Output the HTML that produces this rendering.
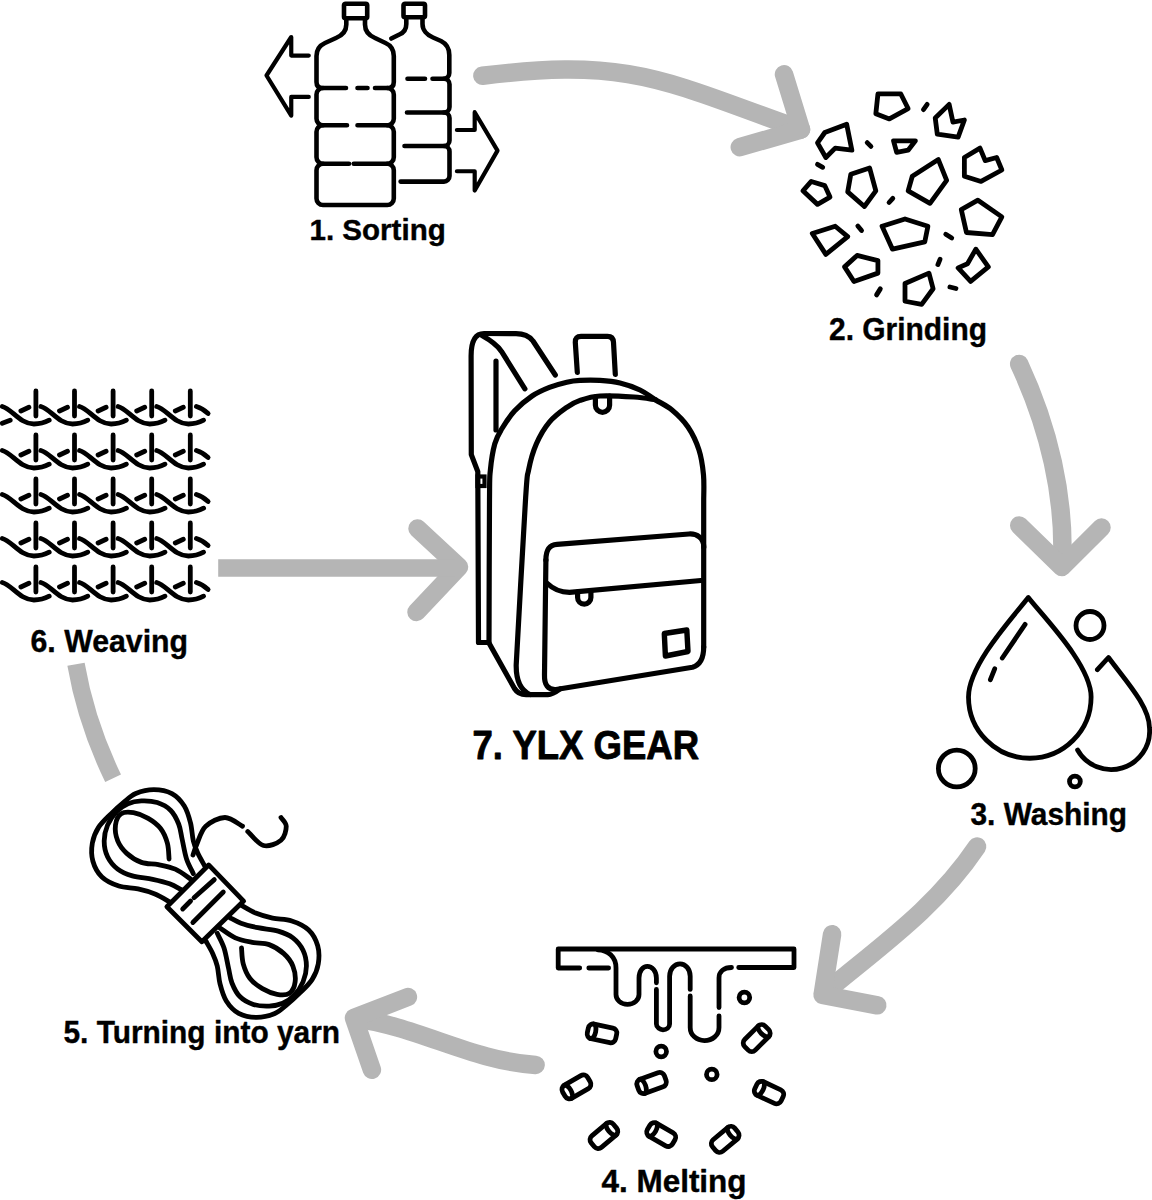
<!DOCTYPE html>
<html><head><meta charset="utf-8"><style>
html,body{margin:0;padding:0;background:#fff;}
body{width:1152px;height:1200px;overflow:hidden;}
svg{display:block;}

</style></head><body><div id="wrap">
<svg width="1152" height="1200" viewBox="0 0 1152 1200">
<rect width="1152" height="1200" fill="#fff"/>
<g fill="none" stroke="#b5b5b5" stroke-width="18.5" stroke-linecap="round" stroke-linejoin="round">
<path d="M 482.4,75.8 C 632.0,57.2 666.3,82.0 801.0,129.5"/>
<path d="M 784,74.3 L 801,129.5 L 739.8,147.2"/>
<path d="M 1019.2,364.0 C 1048.3,426.5 1065.7,496.8 1061.9,566.0"/>
<path d="M 1019.2,525.4 L 1061.9,567 L 1101.5,527.5"/>
<path d="M 977.1,846.5 C 935.4,908.7 878.6,947.2 823.0,994.0"/>
<path d="M 832.1,934.2 L 822.6,994.9 L 877.3,1005.3"/>
<path d="M 535.6,1064.9 C 472.3,1061.1 417.3,1026.2 355.0,1018.5"/>
<path d="M 407.9,997 L 354,1017.9 L 371.9,1069.8"/>
<path d="M 417.5,528.5 L 459,567 L 416.5,612"/>
</g>
<g fill="none" stroke="#b5b5b5" stroke-width="17.5" stroke-linecap="butt">
<path d="M 218.2,568 L 455,568"/>
<path d="M 76,664.2 Q 86,722 113.1,778.3"/>
</g>
<g fill="none" stroke="#000" stroke-width="4.6" stroke-linecap="round" stroke-linejoin="round">
<rect x="403.5" y="3.8" width="21.5" height="13.5" rx="1.5"/>
<path d="M 406.3,18.5 L 406.3,24 C 406.3,30 403,33 399.4,34.5 L 391.3,38.5"/>
<path d="M 422.5,18.5 L 422.5,24 C 422.5,30 427,35 433,37.5 L 441,41 C 446,43.5 449.3,47 449.3,55 L 449.3,73 C 449.3,76.5 447,78.75 443.5,78.75 L 432.5,78.75 M 425,78.75 L 407.5,78.75"/>
<path d="M 444,78.75 A 5.5 5.5 0 0 1 449.5,84.25 L 449.5,107 A 5.5 5.5 0 0 1 444,112.5 L 407,112.5"/>
<path d="M 444,112.5 A 5.5 5.5 0 0 1 449.5,118 L 449.5,140.5 A 5.5 5.5 0 0 1 444,146 L 404.5,146"/>
<path d="M 444,146 A 5.5 5.5 0 0 1 449.5,151.5 L 449.5,176.1 A 5.5 5.5 0 0 1 444,181.6 L 400.6,181.6"/>
<rect x="344" y="3.8" width="23.2" height="14.5" rx="1.5"/>
<path d="M 346.3,19 L 346.3,24.5 C 346.3,31 342,35.5 336,38 L 325,43 C 319.5,45.5 316.5,49 316.5,56 L 316.5,82 C 316.5,86 318.5,88 322.5,88 L 346,88 M 357.5,88 L 367.5,88 M 375,88 L 388,88 C 392,88 393.8,86 393.8,82 L 393.8,56 C 393.8,49 391,45.5 385.5,43 L 375,38 C 369,35.5 365,31 365,24.5 L 365,19"/>
<path d="M 323,88 A 6.5 6.5 0 0 0 316.5,94.5 L 316.5,118.8 A 6.5 6.5 0 0 0 323,125.3 L 347,125.3 M 357.5,125.3 L 387.3,125.3 A 6.5 6.5 0 0 0 393.8,118.8 L 393.8,94.5 A 6.5 6.5 0 0 0 387.3,88"/>
<path d="M 323,125.3 A 6.5 6.5 0 0 0 316.5,131.8 L 316.5,157.25 A 6.5 6.5 0 0 0 323,163.75 L 349,163.75 M 353.75,163.75 L 387.3,163.75 A 6.5 6.5 0 0 0 393.8,157.25 L 393.8,131.8 A 6.5 6.5 0 0 0 387.3,125.3"/>
<path d="M 323,163.75 A 6.5 6.5 0 0 0 316.5,170.25 L 316.5,198.5 A 6.5 6.5 0 0 0 323,205 L 387.3,205 A 6.5 6.5 0 0 0 393.8,198.5 L 393.8,170.25 A 6.5 6.5 0 0 0 387.3,163.75"/>
</g>
<g fill="none" stroke="#000" stroke-width="4.2" stroke-linecap="round" stroke-linejoin="round">
<path d="M 308.75,55.6 L 291.25,55.6 L 291.25,37 L 266.5,75.5 L 291.25,115.6 L 291.25,96.9 L 308.75,96.9"/>
<path d="M 456.9,130 L 474.7,130 L 474.7,112.2 L 497.5,150.6 L 474.7,190.5 L 474.7,171.25 L 456.9,171.25"/>
</g>
<g fill="none" stroke="#000" stroke-width="4.8" stroke-linejoin="round" stroke-linecap="round">
<path d="M 877.92,93.96 L 900.83,93.96 L 908.12,108.54 L 889.38,118.96 L 875.83,113.75 Z"/>
<path d="M 935.21,117.92 L 949.17,104.38 L 952.92,122.08 L 964.38,120 L 958.12,137.08 L 937.29,134.17 Z"/>
<path d="M 817.5,142.92 L 824.79,132.5 L 846.67,124.17 L 851.88,150.21 L 835.21,148.12 L 825.83,157.5 Z"/>
<path d="M 893.54,140.83 L 915.42,140.83 L 908.12,150.21 L 896.67,152.29 Z"/>
<path d="M 964.38,157.5 L 980,148.12 L 985.21,160.62 L 996.67,157.5 L 1001.88,170 L 981.04,181.46 L 964.38,176.25 Z"/>
<path d="M 802.92,190.83 L 811.25,181.46 L 824.79,185.62 L 830,197.08 L 817.5,204.38 Z"/>
<path d="M 850.83,174.17 L 869.58,167.92 L 875.83,190.83 L 864.38,206.46 L 847.71,191.88 Z"/>
<path d="M 908.12,190.83 L 912.29,176.25 L 938.33,159.58 L 946.67,180.42 L 930,203.33 Z"/>
<path d="M 961.25,209.58 L 977.92,200.21 L 1001.88,216.88 L 992.5,234.58 L 966.46,232.5 Z"/>
<path d="M 812.29,233.54 L 835.21,226.25 L 847.71,236.67 L 825.83,254.38 Z"/>
<path d="M 882.08,226.25 L 905,218.96 L 927.92,226.25 L 924.79,241.88 L 892.5,249.17 Z"/>
<path d="M 844.58,266.88 L 857.08,255.42 L 877.92,260.62 L 877.92,273.12 L 853.96,281.46 Z"/>
<path d="M 958.12,267.92 L 967.5,263.75 L 975.83,249.17 L 988.33,266.88 L 970.62,281.46 Z"/>
<path d="M 905,283.54 L 928.96,273.12 L 933.12,288.75 L 921.67,304.38 L 905,301.25 Z"/>
<path d="M 923.44,109.6 L 927.19,104.35"/>
<path d="M 867.19,142.6 L 870.94,146.35"/>
<path d="M 817.48,164.33 L 822.73,167.33"/>
<path d="M 889.06,202.52 L 892.81,198.32"/>
<path d="M 857.81,226.08 L 861.56,230.58"/>
<path d="M 945.75,234.27 L 951.75,238.02"/>
<path d="M 940.01,259.35 L 937.91,264.6"/>
<path d="M 876.56,294.88 L 880.31,288.88"/>
<path d="M 949.92,286.96 L 955.92,288.46"/>
</g>
<g fill="none" stroke="#000" stroke-width="4.8" stroke-linecap="round" stroke-linejoin="round">
<path d="M 1028.3,597.5 C 1013,617 968.5,665 968.5,697 A 61.3 61.3 0 0 0 1091.1,697 C 1091.1,665 1043.5,617 1028.3,597.5 Z"/>
<path d="M 1025.1,624.4 L 1002.3,658 M 994.7,668.8 L 990.4,679.7"/>
<path d="M 1097.4,669.7 L 1108.5,657.5 C 1125,680 1149.5,706 1149.5,728 A 38.5 38.5 0 0 1 1077.6,750"/>
<circle cx="1090" cy="625.5" r="14"/><circle cx="956.8" cy="768.5" r="18.4"/><circle cx="1074.9" cy="781.5" r="5.4"/>
</g>
<g fill="none" stroke="#000" stroke-width="4.8" stroke-linecap="round" stroke-linejoin="round">
<path d="M 579.7,968 L 558.2,968 L 558.2,949 L 794,949 L 794,967.5 L 738.7,967.5 M 588.8,968 L 608.6,968"/>
<path d="M 597.8,949.8 C 608,950 616,957 616,968 L 616,994.4 C 616,1000 621,1004.3 627.5,1004.3 C 634,1004.3 639,1000 639,994.4 L 639,977.9 C 639,971 643,966.3 647.3,966.3 C 652,966.3 656.4,971 656.4,977.9 L 656.4,982.8 M 656.4,989.4 L 656.4,1024 C 656.4,1027.5 660,1029.8 663,1029.8 C 666.5,1029.8 669.6,1027.5 669.6,1024 L 669.6,976.2 C 669.6,969 674.5,963.9 680,963.9 C 685.5,963.9 690.2,969 690.2,976.2 L 690.2,989.4 M 690.2,996 L 690.2,1027.4 C 690.2,1035 696.5,1040.6 704.5,1040.6 C 712.5,1040.6 719,1035 719,1027.4 L 719,1015.8 M 719,1007.6 L 719,977.9 C 719,971.5 724,967.5 731.5,967.5"/>
<circle cx="744.4" cy="997.5" r="5.3"/><circle cx="661.2" cy="1051.5" r="5.3"/><circle cx="711.8" cy="1074.4" r="5.3"/>
<g transform="translate(602,1033.4) rotate(12)"><rect x="-14.5" y="-7.5" width="29" height="15" rx="5"/><path d="M -10,-7.5 A 3.5 7.5 0 0 1 -10,7.5"/></g>
<g transform="translate(756.7,1038.1) rotate(135)"><rect x="-14.5" y="-7.5" width="29" height="15" rx="5"/><path d="M -10,-7.5 A 3.5 7.5 0 0 1 -10,7.5"/></g>
<g transform="translate(576.4,1086.9) rotate(-30)"><rect x="-14.5" y="-7.5" width="29" height="15" rx="5"/><path d="M -10,-7.5 A 3.5 7.5 0 0 1 -10,7.5"/></g>
<g transform="translate(651.6,1083) rotate(-20)"><rect x="-14.5" y="-7.5" width="29" height="15" rx="5"/><path d="M -10,-7.5 A 3.5 7.5 0 0 1 -10,7.5"/></g>
<g transform="translate(769,1092.6) rotate(25)"><rect x="-14.5" y="-7.5" width="29" height="15" rx="5"/><path d="M -10,-7.5 A 3.5 7.5 0 0 1 -10,7.5"/></g>
<g transform="translate(603.9,1135.5) rotate(140)"><rect x="-14.5" y="-7.5" width="29" height="15" rx="5"/><path d="M -10,-7.5 A 3.5 7.5 0 0 1 -10,7.5"/></g>
<g transform="translate(661.2,1134.6) rotate(30)"><rect x="-14.5" y="-7.5" width="29" height="15" rx="5"/><path d="M -10,-7.5 A 3.5 7.5 0 0 1 -10,7.5"/></g>
<g transform="translate(725.2,1139.4) rotate(140)"><rect x="-14.5" y="-7.5" width="29" height="15" rx="5"/><path d="M -10,-7.5 A 3.5 7.5 0 0 1 -10,7.5"/></g>
</g>
<g fill="none" stroke="#000" stroke-width="4.8" stroke-linecap="round" stroke-linejoin="round">
<g id="lobe"><path d="M 204.61,865.76 C 203.48,863.69 199.72,857.48 197.84,853.35 C 195.96,849.21 194.55,846.01 193.33,840.93 C 192.11,835.86 192.01,828.71 190.51,822.88 C 189,817.05 187.4,810.84 184.3,805.95 C 181.2,801.06 176.97,796.27 171.89,793.54 C 166.81,790.81 159.85,789.59 153.83,789.59 C 147.82,789.59 140.86,791.38 135.78,793.54 C 130.7,795.7 127.5,799.18 123.37,802.57 C 119.23,805.95 115.09,809.71 110.95,813.85 C 106.82,817.99 101.64,822.5 98.54,827.39 C 95.44,832.28 93.28,837.55 92.33,843.19 C 91.39,848.83 91.3,855.6 92.9,861.25 C 94.5,866.89 97.6,872.91 101.93,877.04 C 106.25,881.18 112.83,884.1 118.85,886.07 C 124.87,888.05 132.02,887.58 138.04,888.89 C 144.05,890.21 149.7,891.81 154.96,893.97 C 160.23,896.13 167.19,900.55 169.63,901.87"/><path d="M 193.33,873.66 C 192.2,871.21 188.44,864.82 186.56,858.99 C 184.68,853.16 183.36,844.51 182.04,838.68 C 180.73,832.85 180.54,828.71 178.66,824.01 C 176.78,819.31 174.33,814.04 170.76,810.47 C 167.19,806.89 162.11,804.17 157.22,802.57 C 152.33,800.97 146.31,800.69 141.42,800.88 C 136.53,801.06 132.02,801.91 127.88,803.7 C 123.74,805.48 119.98,808.02 116.6,811.6 C 113.21,815.17 109.64,820.25 107.57,825.14 C 105.5,830.03 104.18,835.67 104.18,840.93 C 104.18,846.2 105.31,852.03 107.57,856.73 C 109.83,861.43 113.59,865.95 117.72,869.14 C 121.86,872.34 126.56,874.22 132.39,875.92 C 138.22,877.61 146.5,877.98 152.7,879.3 C 158.91,880.62 164.93,882.12 169.63,883.81 C 174.33,885.51 179.03,888.52 180.92,889.46"/><path d="M 169.07,858.99 C 168.78,856.36 168.78,848.27 167.37,843.19 C 165.96,838.11 163.8,832.66 160.6,828.52 C 157.41,824.38 152.7,821 148.19,818.37 C 143.68,815.73 138.04,813.48 133.52,812.72 C 129.01,811.97 124.12,811.78 121.11,813.85 C 118.1,815.92 116.03,820.62 115.47,825.14 C 114.9,829.65 115.84,836.23 117.72,840.93 C 119.6,845.64 122.8,849.77 126.75,853.35 C 130.7,856.92 136.15,860.49 141.42,862.37 C 146.69,864.25 152.7,863.5 158.35,864.63 C 163.99,865.76 169.82,866.7 175.27,869.14 C 180.73,871.59 188.44,877.61 191.07,879.3"/></g>
<g transform="rotate(180 205.3 903.5)"><path d="M 204.61,865.76 C 203.48,863.69 199.72,857.48 197.84,853.35 C 195.96,849.21 194.55,846.01 193.33,840.93 C 192.11,835.86 192.01,828.71 190.51,822.88 C 189,817.05 187.4,810.84 184.3,805.95 C 181.2,801.06 176.97,796.27 171.89,793.54 C 166.81,790.81 159.85,789.59 153.83,789.59 C 147.82,789.59 140.86,791.38 135.78,793.54 C 130.7,795.7 127.5,799.18 123.37,802.57 C 119.23,805.95 115.09,809.71 110.95,813.85 C 106.82,817.99 101.64,822.5 98.54,827.39 C 95.44,832.28 93.28,837.55 92.33,843.19 C 91.39,848.83 91.3,855.6 92.9,861.25 C 94.5,866.89 97.6,872.91 101.93,877.04 C 106.25,881.18 112.83,884.1 118.85,886.07 C 124.87,888.05 132.02,887.58 138.04,888.89 C 144.05,890.21 149.7,891.81 154.96,893.97 C 160.23,896.13 167.19,900.55 169.63,901.87"/><path d="M 193.33,873.66 C 192.2,871.21 188.44,864.82 186.56,858.99 C 184.68,853.16 183.36,844.51 182.04,838.68 C 180.73,832.85 180.54,828.71 178.66,824.01 C 176.78,819.31 174.33,814.04 170.76,810.47 C 167.19,806.89 162.11,804.17 157.22,802.57 C 152.33,800.97 146.31,800.69 141.42,800.88 C 136.53,801.06 132.02,801.91 127.88,803.7 C 123.74,805.48 119.98,808.02 116.6,811.6 C 113.21,815.17 109.64,820.25 107.57,825.14 C 105.5,830.03 104.18,835.67 104.18,840.93 C 104.18,846.2 105.31,852.03 107.57,856.73 C 109.83,861.43 113.59,865.95 117.72,869.14 C 121.86,872.34 126.56,874.22 132.39,875.92 C 138.22,877.61 146.5,877.98 152.7,879.3 C 158.91,880.62 164.93,882.12 169.63,883.81 C 174.33,885.51 179.03,888.52 180.92,889.46"/><path d="M 169.07,858.99 C 168.78,856.36 168.78,848.27 167.37,843.19 C 165.96,838.11 163.8,832.66 160.6,828.52 C 157.41,824.38 152.7,821 148.19,818.37 C 143.68,815.73 138.04,813.48 133.52,812.72 C 129.01,811.97 124.12,811.78 121.11,813.85 C 118.1,815.92 116.03,820.62 115.47,825.14 C 114.9,829.65 115.84,836.23 117.72,840.93 C 119.6,845.64 122.8,849.77 126.75,853.35 C 130.7,856.92 136.15,860.49 141.42,862.37 C 146.69,864.25 152.7,863.5 158.35,864.63 C 163.99,865.76 169.82,866.7 175.27,869.14 C 180.73,871.59 188.44,877.61 191.07,879.3"/></g>
</g>
<path d="M 166.89,906.7 L 208.64,864.95 L 243.63,901.06 L 201.87,941.68 Z" fill="#fff" stroke="#000" stroke-width="4.8" stroke-linejoin="round"/>
<g fill="none" stroke="#000" stroke-width="4.8" stroke-linecap="round">
<path d="M 182.69,908.96 L 190.59,901.06"/>
<path d="M 193.97,897.67 L 214.29,879.62"/>
<path d="M 192.85,922.5 L 223.31,892.03"/>
<path d="M 193,855 C 193.67,853.12 194.88,848.54 197,843.75 C 199.12,838.96 201.08,830.62 205.75,826.25 C 210.42,821.88 218.88,817.5 225,817.5 C 231.12,817.5 239.58,824.79 242.5,826.25"/>
<path d="M 247.75,831.5 C 250.38,833.83 257.96,844.04 263.5,845.5 C 269.04,846.96 277.21,843.46 281,840.25 C 284.79,837.04 286.25,830.04 286.25,826.25 C 286.25,822.46 281.88,818.96 281,817.5"/>
</g>
<g fill="none" stroke="#000" stroke-width="4.8" stroke-linecap="round">
<path d="M 35.9,391 L 35.9,416"/>
<path d="M 2.3,406.5 C 11.9,409 19.9,424 33.9,424 C 40.9,424 45.9,422 49.2,420.2"/>
<path d="M 20.9,411 L 28.9,407.3"/>
<path d="M 74.5,391 L 74.5,416"/>
<path d="M 40.9,406.5 C 50.5,409 58.5,424 72.5,424 C 79.5,424 84.5,422 87.8,420.2"/>
<path d="M 59.5,411 L 67.5,407.3"/>
<path d="M 113.1,391 L 113.1,416"/>
<path d="M 79.5,406.5 C 89.1,409 97.1,424 111.1,424 C 118.1,424 123.1,422 126.4,420.2"/>
<path d="M 98.1,411 L 106.1,407.3"/>
<path d="M 151.7,391 L 151.7,416"/>
<path d="M 118.1,406.5 C 127.7,409 135.7,424 149.7,424 C 156.7,424 161.7,422 165,420.2"/>
<path d="M 136.7,411 L 144.7,407.3"/>
<path d="M 190.3,391 L 190.3,416"/>
<path d="M 156.7,406.5 C 166.3,409 174.3,424 188.3,424 C 195.3,424 200.3,422 203.6,420.2"/>
<path d="M 175.3,411 L 183.3,407.3"/>
<path d="M 2.3,423.3 L 10.2,420.2"/>
<path d="M 196.4,406.5 Q 203,408.5 208.1,413.5"/>
<path d="M 35.9,435 L 35.9,460"/>
<path d="M 2.3,450.5 C 11.9,453 19.9,468 33.9,468 C 40.9,468 45.9,466 49.2,464.2"/>
<path d="M 20.9,455 L 28.9,451.3"/>
<path d="M 74.5,435 L 74.5,460"/>
<path d="M 40.9,450.5 C 50.5,453 58.5,468 72.5,468 C 79.5,468 84.5,466 87.8,464.2"/>
<path d="M 59.5,455 L 67.5,451.3"/>
<path d="M 113.1,435 L 113.1,460"/>
<path d="M 79.5,450.5 C 89.1,453 97.1,468 111.1,468 C 118.1,468 123.1,466 126.4,464.2"/>
<path d="M 98.1,455 L 106.1,451.3"/>
<path d="M 151.7,435 L 151.7,460"/>
<path d="M 118.1,450.5 C 127.7,453 135.7,468 149.7,468 C 156.7,468 161.7,466 165,464.2"/>
<path d="M 136.7,455 L 144.7,451.3"/>
<path d="M 190.3,435 L 190.3,460"/>
<path d="M 156.7,450.5 C 166.3,453 174.3,468 188.3,468 C 195.3,468 200.3,466 203.6,464.2"/>
<path d="M 175.3,455 L 183.3,451.3"/>
<path d="M 196.4,450.5 Q 203,452.5 208.1,457.5"/>
<path d="M 35.9,479 L 35.9,504"/>
<path d="M 2.3,494.5 C 11.9,497 19.9,512 33.9,512 C 40.9,512 45.9,510 49.2,508.2"/>
<path d="M 20.9,499 L 28.9,495.3"/>
<path d="M 74.5,479 L 74.5,504"/>
<path d="M 40.9,494.5 C 50.5,497 58.5,512 72.5,512 C 79.5,512 84.5,510 87.8,508.2"/>
<path d="M 59.5,499 L 67.5,495.3"/>
<path d="M 113.1,479 L 113.1,504"/>
<path d="M 79.5,494.5 C 89.1,497 97.1,512 111.1,512 C 118.1,512 123.1,510 126.4,508.2"/>
<path d="M 98.1,499 L 106.1,495.3"/>
<path d="M 151.7,479 L 151.7,504"/>
<path d="M 118.1,494.5 C 127.7,497 135.7,512 149.7,512 C 156.7,512 161.7,510 165,508.2"/>
<path d="M 136.7,499 L 144.7,495.3"/>
<path d="M 190.3,479 L 190.3,504"/>
<path d="M 156.7,494.5 C 166.3,497 174.3,512 188.3,512 C 195.3,512 200.3,510 203.6,508.2"/>
<path d="M 175.3,499 L 183.3,495.3"/>
<path d="M 196.4,494.5 Q 203,496.5 208.1,501.5"/>
<path d="M 35.9,523 L 35.9,548"/>
<path d="M 2.3,538.5 C 11.9,541 19.9,556 33.9,556 C 40.9,556 45.9,554 49.2,552.2"/>
<path d="M 20.9,543 L 28.9,539.3"/>
<path d="M 74.5,523 L 74.5,548"/>
<path d="M 40.9,538.5 C 50.5,541 58.5,556 72.5,556 C 79.5,556 84.5,554 87.8,552.2"/>
<path d="M 59.5,543 L 67.5,539.3"/>
<path d="M 113.1,523 L 113.1,548"/>
<path d="M 79.5,538.5 C 89.1,541 97.1,556 111.1,556 C 118.1,556 123.1,554 126.4,552.2"/>
<path d="M 98.1,543 L 106.1,539.3"/>
<path d="M 151.7,523 L 151.7,548"/>
<path d="M 118.1,538.5 C 127.7,541 135.7,556 149.7,556 C 156.7,556 161.7,554 165,552.2"/>
<path d="M 136.7,543 L 144.7,539.3"/>
<path d="M 190.3,523 L 190.3,548"/>
<path d="M 156.7,538.5 C 166.3,541 174.3,556 188.3,556 C 195.3,556 200.3,554 203.6,552.2"/>
<path d="M 175.3,543 L 183.3,539.3"/>
<path d="M 196.4,538.5 Q 203,540.5 208.1,545.5"/>
<path d="M 35.9,567 L 35.9,592"/>
<path d="M 2.3,582.5 C 11.9,585 19.9,600 33.9,600 C 40.9,600 45.9,598 49.2,596.2"/>
<path d="M 20.9,587 L 28.9,583.3"/>
<path d="M 74.5,567 L 74.5,592"/>
<path d="M 40.9,582.5 C 50.5,585 58.5,600 72.5,600 C 79.5,600 84.5,598 87.8,596.2"/>
<path d="M 59.5,587 L 67.5,583.3"/>
<path d="M 113.1,567 L 113.1,592"/>
<path d="M 79.5,582.5 C 89.1,585 97.1,600 111.1,600 C 118.1,600 123.1,598 126.4,596.2"/>
<path d="M 98.1,587 L 106.1,583.3"/>
<path d="M 151.7,567 L 151.7,592"/>
<path d="M 118.1,582.5 C 127.7,585 135.7,600 149.7,600 C 156.7,600 161.7,598 165,596.2"/>
<path d="M 136.7,587 L 144.7,583.3"/>
<path d="M 190.3,567 L 190.3,592"/>
<path d="M 156.7,582.5 C 166.3,585 174.3,600 188.3,600 C 195.3,600 200.3,598 203.6,596.2"/>
<path d="M 175.3,587 L 183.3,583.3"/>
<path d="M 196.4,582.5 Q 203,584.5 208.1,589.5"/>
</g>
<g fill="none" stroke="#000" stroke-width="5.2" stroke-linecap="round" stroke-linejoin="round">
<path d="M 555.3,375 L 533,341 C 529,336 524,333.7 516,333.7 L 484,333.5 C 475,333.5 471.1,342 471.1,356 L 471.3,454.6 L 477.8,471.6 L 478.5,642.5 L 488,642.5"/>
<path d="M 482.4,335.8 C 490,340 497,345 501.5,351.4 L 524.9,388.8"/>
<path d="M 496,361 L 496,430"/>
<path d="M 489,642.5 C 489.08,618.75 489.27,528.75 489.5,500 C 489.73,471.25 489.52,479.37 490.4,470 C 491.28,460.63 492.92,450.63 494.8,443.8 C 496.68,436.97 498.38,434.5 501.7,429 C 505.02,423.5 509.63,416.3 514.7,410.8 C 519.77,405.3 526.32,399.9 532.1,396 C 537.88,392.1 543.62,389.7 549.4,387.4 C 555.18,385.1 561.7,383.37 566.8,382.2 C 571.9,381.03 574.47,380.7 580,380.4 C 585.53,380.1 593.33,379.97 600,380.4 C 606.67,380.83 613.33,381.4 620,383 C 626.67,384.6 634.12,387.22 640,390 C 645.88,392.78 649.97,396.37 655.3,399.7 C 660.63,403.03 666.55,405.45 672,410 C 677.45,414.55 683.5,420.33 688,427 C 692.5,433.67 696.42,442 699,450 C 701.58,458 702.72,466.67 703.5,475 C 704.28,483.33 703.67,495.83 703.7,500 L 703.7,647"/>
<path d="M 488.7,642.6 L 514.5,688.5 C 517,692.5 520,694.6 526,694.6 L 548,694.6 C 552,694.6 556,692 560,689"/>
<path d="M 655.3,399.7 C 651.75,399.25 643.22,397.62 634,397 C 624.78,396.38 609,395.43 600,396 C 591,396.57 585.53,398.52 580,400.4 C 574.47,402.28 571.9,403.68 566.8,407.3 C 561.7,410.92 554.47,416.02 549.4,422.1 C 544.33,428.18 539.87,435.82 536.4,443.8 C 532.93,451.78 530.42,460.63 528.6,470 C 526.78,479.37 527.57,467.5 525.5,500 C 523.43,532.5 517.75,637.5 516.2,665 C 516,680 520,690 530,694.5"/>
<path d="M 545.9,560 L 544.5,675 C 544.2,685 548,690 556,689.5 L 692.5,667.3 C 700,665 703.7,658 703.7,647"/>
<path d="M 545.9,560 C 545.9,550 549,545 557,544.4 L 689,534 C 697,533.5 703.8,538 703.8,547"/>
<path d="M 547.4,583.5 C 553,589 560,592.3 569.5,592.3 L 700.9,580.5"/>
<path d="M 577.6,592 L 577.6,597.5 A 6.65 6.65 0 0 0 590.9,597.5 L 590.9,591"/>
<path d="M 595.4,397 L 595.4,405.2 A 7.1 7.1 0 0 0 609.6,405.2 L 609.6,396"/>
<path d="M 577.3,372.3 L 575.3,342.3 C 575.3,338 577,336.3 581,336.3 L 607.5,336.3 C 611.5,336.3 613.3,338.5 613.5,342.3 L 615.3,374.3"/>
</g>
<path d="M 664.3,633.5 L 686.8,630 L 688,651.5 L 665.4,656 Z" fill="none" stroke="#000" stroke-width="5.4" stroke-linejoin="round"/>
<rect x="477.5" y="476.5" width="7" height="9.5" fill="none" stroke="#000" stroke-width="4.2"/>
<g font-family="Liberation Sans, sans-serif" font-weight="bold" fill="#000" stroke="#000" stroke-width="0.4" stroke-linejoin="round">
<text x="309.5" y="239.9" font-size="29.8" textLength="136.25" lengthAdjust="spacingAndGlyphs">1. Sorting</text>
<text x="829" y="339.7" font-size="31.5" textLength="158" lengthAdjust="spacingAndGlyphs">2. Grinding</text>
<text x="970.5" y="825" font-size="31" textLength="156.5" lengthAdjust="spacingAndGlyphs">3. Washing</text>
<text x="601.5" y="1192" font-size="31" textLength="145" lengthAdjust="spacingAndGlyphs">4. Melting</text>
<text x="63.5" y="1042.6" font-size="31" textLength="276.5" lengthAdjust="spacingAndGlyphs">5. Turning into yarn</text>
<text x="30.5" y="652" font-size="31" textLength="157.5" lengthAdjust="spacingAndGlyphs">6. Weaving</text>
<text x="472.5" y="759.1" font-size="41" textLength="226.5" lengthAdjust="spacingAndGlyphs" stroke-width="0.9">7. YLX GEAR</text>
</g>
</svg></div>
</body></html>
